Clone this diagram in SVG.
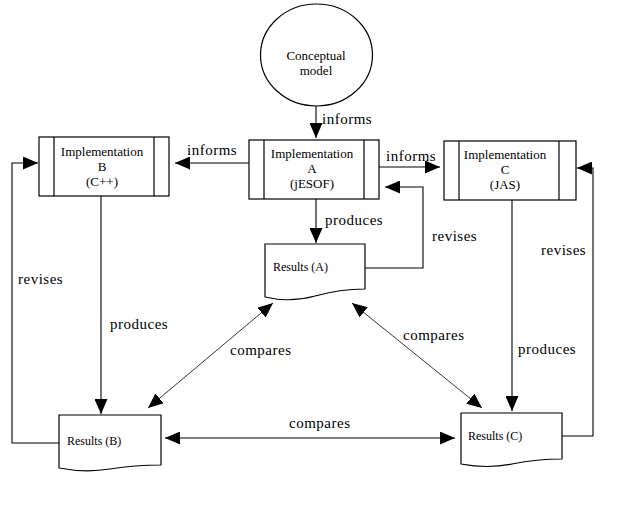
<svg xmlns="http://www.w3.org/2000/svg" width="635" height="523" viewBox="0 0 635 523">
<style>
.shape{fill:#fff;stroke:#000;stroke-width:1.2}
.inner{fill:none;stroke:#000;stroke-width:1.2}
.conn{fill:none;stroke:#000;stroke-width:1.1}
.thin{fill:none;stroke:#000;stroke-width:0.8}
text{font-family:'Liberation Serif','DejaVu Serif',serif;fill:#000}
.t{font-size:13px;text-anchor:middle}
.r{font-size:12px}
.lbl{font-size:15px;letter-spacing:0.5px}
</style>
<defs>
<marker id="ah" viewBox="0 0 15 13" refX="15" refY="6.5" markerWidth="15" markerHeight="13" markerUnits="userSpaceOnUse" orient="auto-start-reverse">
<path d="M0,0 L15,6.5 L0,13 Z" fill="#000"/>
</marker>
</defs>
<rect width="635" height="523" fill="#fff"/>
<g id="connectors">
<line class="conn" x1="316" y1="106" x2="316" y2="138" marker-end="url(#ah)"/>
<line class="conn" x1="249" y1="163" x2="175" y2="163" marker-end="url(#ah)"/>
<line class="conn" x1="379" y1="167" x2="440" y2="167" marker-end="url(#ah)"/>
<line class="conn" x1="316" y1="199" x2="316" y2="243" marker-end="url(#ah)"/>
<polyline class="conn" points="365,268 423,268 423,187 385,187" marker-end="url(#ah)"/>
<line class="conn" x1="101" y1="196" x2="101" y2="414" marker-end="url(#ah)"/>
<polyline class="conn" points="59,443 12,443 12,163 38,163" marker-end="url(#ah)"/>
<line class="conn" x1="512" y1="200" x2="512" y2="411" marker-end="url(#ah)"/>
<polyline class="conn" points="562,436 593,436 593,168 577,168" marker-end="url(#ah)"/>
<line class="thin" x1="273" y1="303" x2="148" y2="408" marker-start="url(#ah)" marker-end="url(#ah)"/>
<line class="thin" x1="352" y1="303" x2="482" y2="408" marker-start="url(#ah)" marker-end="url(#ah)"/>
<line class="conn" x1="165" y1="438" x2="455" y2="438" marker-start="url(#ah)" marker-end="url(#ah)"/>
<text class="lbl" x="322" y="124">informs</text>
<text class="lbl" x="187" y="155">informs</text>
<text class="lbl" x="386" y="161">informs</text>
<text class="lbl" x="325" y="225">produces</text>
<text class="lbl" x="432" y="241">revises</text>
<text class="lbl" x="110" y="329">produces</text>
<text class="lbl" x="18" y="284">revises</text>
<text class="lbl" x="518" y="354">produces</text>
<text class="lbl" x="541" y="255">revises</text>
<text class="lbl" x="230" y="355">compares</text>
<text class="lbl" x="403" y="340">compares</text>
<text class="lbl" x="289" y="428">compares</text>
</g>
<g id="conceptual-model">
<ellipse class="shape" cx="316.5" cy="55" rx="56" ry="51"/>
<text class="t" x="316" y="60">Conceptual</text>
<text class="t" x="316" y="75">model</text>
</g>
<g id="impl-a">
<rect class="shape" x="249" y="140" width="130" height="59"/>
<line class="inner" x1="264" y1="140" x2="264" y2="199"/>
<line class="inner" x1="364" y1="140" x2="364" y2="199"/>
<text class="t" x="312" y="158">Implementation</text>
<text class="t" x="312" y="173">A</text>
<text class="t" x="312" y="188">(jESOF)</text>
</g>
<g id="impl-b">
<rect class="shape" x="39" y="137" width="130" height="59"/>
<line class="inner" x1="54" y1="137" x2="54" y2="196"/>
<line class="inner" x1="154" y1="137" x2="154" y2="196"/>
<text class="t" x="102" y="156">Implementation</text>
<text class="t" x="102" y="171">B</text>
<text class="t" x="102" y="186">(C++)</text>
</g>
<g id="impl-c">
<rect class="shape" x="444" y="141" width="132" height="59"/>
<line class="inner" x1="459" y1="141" x2="459" y2="200"/>
<line class="inner" x1="559" y1="141" x2="559" y2="200"/>
<text class="t" x="505" y="159">Implementation</text>
<text class="t" x="505" y="174">C</text>
<text class="t" x="505" y="189">(JAS)</text>
</g>
<g id="results-a">
<path class="shape" d="M265,244 H365 V289 Q340,289 315,296 T265,297 Z"/>
<text class="r" x="273" y="271">Results (A)</text>
</g>
<g id="results-b">
<path class="shape" d="M59,415 H161 V465 Q135,465 110,469 T59,468 Z"/>
<text class="r" x="67" y="445">Results (B)</text>
</g>
<g id="results-c">
<path class="shape" d="M461,413 H562 V459 Q537,459 512,464 T461,464 Z"/>
<text class="r" x="468" y="440">Results (C)</text>
</g>
</svg>
